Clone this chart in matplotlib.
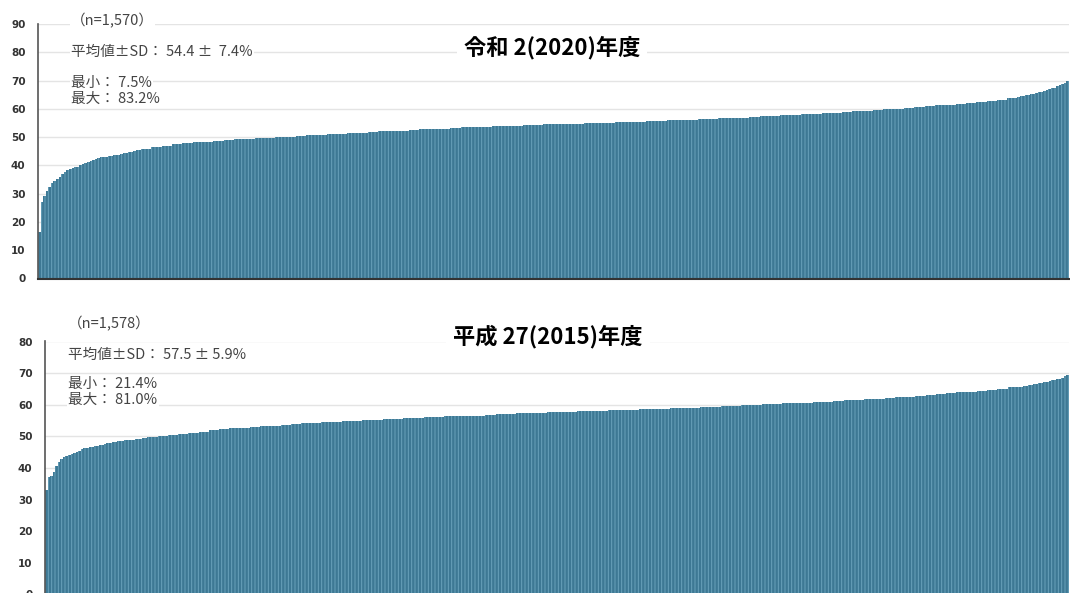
import matplotlib
matplotlib.use("Agg")
import matplotlib.pyplot as plt
import numpy as np

plt.rcParams['font.family'] = ['Noto Sans CJK JP', 'DejaVu Sans']
plt.rcParams['hatch.linewidth'] = 0.7

# sorted rates (%), by rank percentile:
# head = 0-10 % in 0.25 % steps, body = 10-95 % in 1 % steps, tail = 95-100 % in 0.25 % steps
r2_head = [16.5, 27.0, 29.0, 30.8, 32.3, 33.8, 34.6, 35.2, 35.9, 36.8,
           37.7, 38.4, 38.7, 39.0, 39.3, 39.6, 40.0, 40.6, 41.0, 41.3,
           41.6, 42.0, 42.3, 42.6, 42.8, 43.0, 43.1, 43.2, 43.4, 43.5,
           43.6, 43.8, 44.1, 44.3, 44.5, 44.7, 44.9, 45.1, 45.3, 45.5]
r2_body = [45.8, 46.5, 47.0, 47.4, 47.8, 48.1, 48.4, 48.8, 49.1, 49.3,
           49.4, 49.6, 49.8, 49.9, 50.1, 50.4, 50.6, 50.8, 51.0, 51.2,
           51.4, 51.6, 51.8, 52.0, 52.2, 52.3, 52.5, 52.7, 52.9, 53.0,
           53.2, 53.4, 53.5, 53.7, 53.9, 54.0, 54.1, 54.2, 54.3, 54.5,
           54.6, 54.7, 54.8, 54.9, 55.0, 55.1, 55.2, 55.4, 55.5, 55.6,
           55.7, 55.9, 56.0, 56.2, 56.3, 56.5, 56.6, 56.8, 56.9, 57.1,
           57.3, 57.5, 57.7, 57.9, 58.1, 58.3, 58.5, 58.7, 58.9, 59.1,
           59.4, 59.6, 59.8, 60.1, 60.4, 60.7, 60.9, 61.2, 61.5, 61.8,
           62.2, 62.5, 62.8, 63.2, 63.8]
r2_tail = [64.3, 64.5, 64.7, 64.9, 65.0, 65.2, 65.4, 65.6, 65.8, 66.0,
           66.3, 66.6, 66.9, 67.2, 67.5, 67.9, 68.3, 68.7, 69.3, 70.0]

h27_head = [33.0, 37.0, 37.6, 38.6, 40.5, 41.9, 42.9, 43.4, 43.8, 44.2,
            44.5, 44.8, 45.1, 45.4, 45.9, 46.2, 46.4, 46.5, 46.7, 46.9,
            47.0, 47.2, 47.4, 47.6, 47.8, 48.0, 48.2, 48.3, 48.4, 48.5,
            48.6, 48.7, 48.8, 48.9, 49.0, 49.1, 49.2, 49.3, 49.4, 49.5]
h27_body = [49.8, 50.1, 50.5, 50.9, 51.2, 51.5, 51.9, 52.2, 52.5, 52.7,
            52.9, 53.2, 53.4, 53.7, 54.0, 54.1, 54.3, 54.4, 54.6, 54.8,
            54.9, 55.1, 55.2, 55.4, 55.6, 55.7, 55.9, 56.1, 56.2, 56.3,
            56.4, 56.5, 56.6, 56.8, 57.0, 57.1, 57.3, 57.4, 57.5, 57.6,
            57.7, 57.8, 57.9, 58.0, 58.1, 58.2, 58.3, 58.4, 58.5, 58.6,
            58.7, 58.9, 59.0, 59.1, 59.3, 59.4, 59.5, 59.7, 59.8, 60.0,
            60.1, 60.3, 60.4, 60.6, 60.7, 60.9, 61.0, 61.2, 61.4, 61.6,
            61.7, 61.9, 62.1, 62.4, 62.6, 62.8, 63.1, 63.3, 63.6, 63.9,
            64.1, 64.4, 64.7, 65.1, 65.5]
h27_tail = [65.6, 65.7, 65.8, 66.0, 66.1, 66.3, 66.5, 66.7, 66.8, 67.0,
            67.1, 67.3, 67.5, 67.7, 67.9, 68.1, 68.3, 68.6, 69.0, 69.4]

titles = ['令和 2(2020)年度', '平成 27(2015)年度']
counts = ['（n=1,570）', '（n=1,578）']
mean_sd = ['平均値±SD： 54.4 ±  7.4%', '平均値±SD： 57.5 ± 5.9%']
minimum = ['最小： 7.5%', '最小： 21.4%']
maximum = ['最大： 83.2%', '最大： 81.0%']

W, H = 1070, 593
fig = plt.figure(figsize=(W / 100, H / 100), dpi=100)

bar_color = '#3d7894'
stripe_color = '#6aa2bb'


def px(x, y):
    return x / W, 1 - y / H


def bins(head, body, tail):
    # left edges and widths in rank percent
    widths = [0.25] * len(head) + [1.0] * len(body) + [0.25] * len(tail)
    lefts = np.concatenate([[0], np.cumsum(widths)[:-1]])
    return lefts, widths, head + body + tail


panels = [
    dict(data=(r2_head, r2_body, r2_tail), left=38, right=1069, y0=278.5,
         ytop=24, top=90, title_xy=(552, 48), text_x=71,
         text_y=[21, 52, 83, 99]),
    dict(data=(h27_head, h27_body, h27_tail), left=45, right=1069, y0=594.5,
         ytop=341.5, top=80, title_xy=(548, 337), text_x=68,
         text_y=[324, 355, 384, 400]),
]

for i, p in enumerate(panels):
    l, b = px(p['left'], p['y0'])
    r, t = px(p['right'], p['ytop'])
    ax = fig.add_axes([l, b, r - l, t - b])
    lefts, widths, vals = bins(*p['data'])
    ax.bar(lefts, vals, width=widths, align='edge', color=bar_color,
           edgecolor=stripe_color, linewidth=0, hatch='|||||', zorder=2)
    ax.set_xlim(0, 100)
    ax.set_ylim(0, p['top'])
    ax.set_yticks(range(0, p['top'] + 1, 10))
    ax.set_xticks([])
    ax.yaxis.grid(True, color='#e4e4e4', linewidth=1.0, zorder=0)
    ax.set_axisbelow(True)
    for s in ['top', 'right']:
        ax.spines[s].set_visible(False)
    ax.spines['left'].set_color('#555555')
    ax.spines['left'].set_linewidth(1.2)
    ax.spines['bottom'].set_color('#333333')
    ax.spines['bottom'].set_linewidth(1.5)
    ax.tick_params(axis='y', length=0, pad=9, labelsize=7.5, labelcolor='#333333')
    for lab in ax.get_yticklabels():
        lab.set_fontweight('bold')
        lab.set_family('DejaVu Sans')

    tx, ty = px(*p['title_xy'])
    fig.text(tx, ty, titles[i], ha='center', va='center', fontsize=16,
             fontweight='bold', color='black',
             bbox=dict(facecolor='white', edgecolor='none', pad=5))

    lines = [counts[i], mean_sd[i], minimum[i], maximum[i]]
    for txt, yy in zip(lines, p['text_y']):
        fx, fy = px(p['text_x'], yy)
        fig.text(fx, fy, txt, ha='left', va='center', fontsize=10.5,
                 color='#444444',
                 bbox=dict(facecolor='white', edgecolor='none', pad=1.0))

fig.savefig('out.png', dpi=100)
